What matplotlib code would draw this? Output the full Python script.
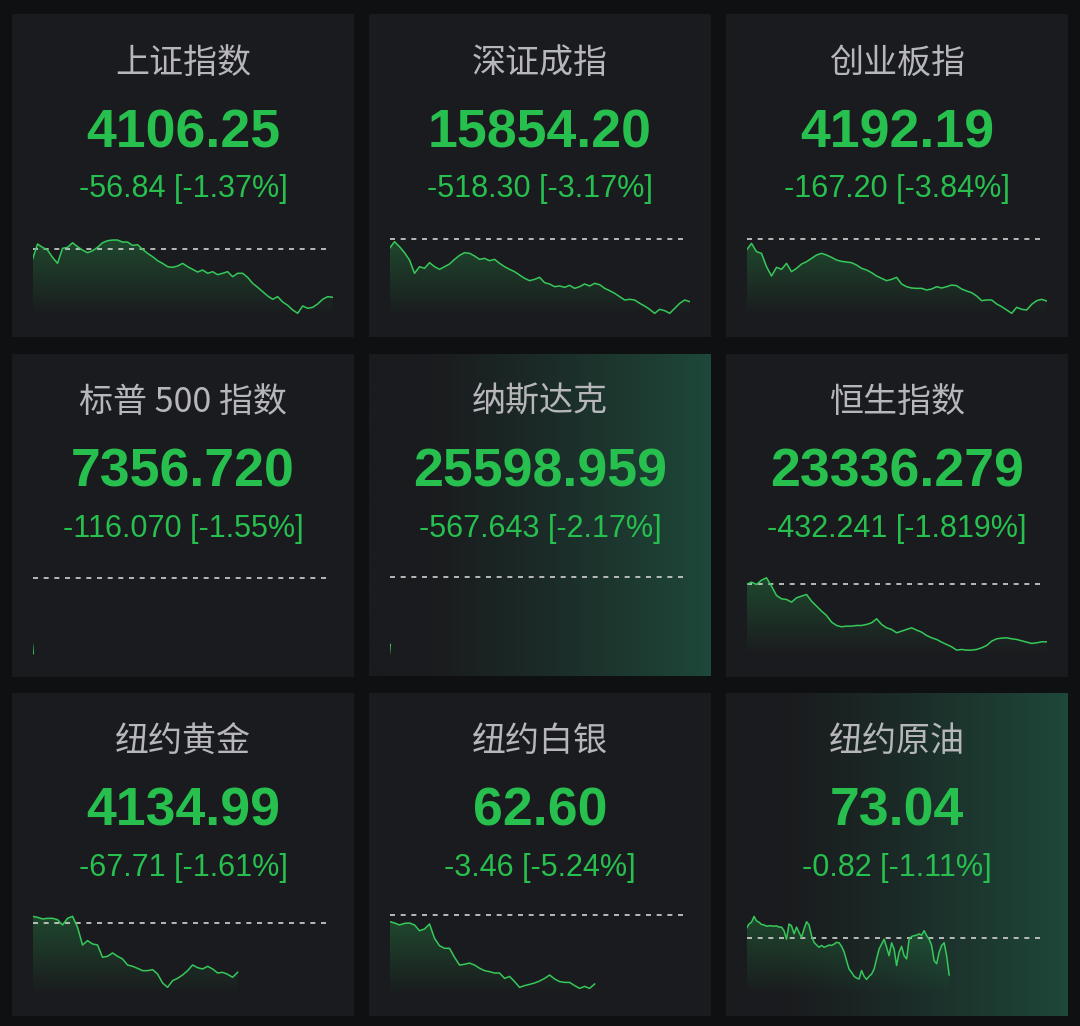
import numpy as np
import matplotlib
matplotlib.use('Agg')
import matplotlib.pyplot as plt
from matplotlib.path import Path
from matplotlib.colors import to_rgb

plt.rcParams['font.family'] = ['Noto Sans CJK SC', 'DejaVu Sans']

# ---------------- data ----------------
names = ['上证指数', '深证成指', '创业板指',
         '标普 500 指数', '纳斯达克', '恒生指数',
         '纽约黄金', '纽约白银', '纽约原油']
prices = ['4106.25', '15854.20', '4192.19',
          '7356.720', '25598.959', '23336.279',
          '4134.99', '62.60', '73.04']
changes = ['-56.84', '-518.30', '-167.20',
           '-116.070', '-567.643', '-432.241',
           '-67.71', '-3.46', '-0.82']
pcts = ['-1.37%', '-3.17%', '-3.84%',
        '-1.55%', '-2.17%', '-1.819%',
        '-1.61%', '-5.24%', '-1.11%']

sse = [4150.9, 4169.0, 4165.1, 4161.9, 4153.3, 4146.2, 4163.9, 4165.1, 4170.5, 4165.8,
       4161.9, 4158.8, 4161.1, 4165.1, 4170.5, 4172.9, 4173.7, 4173.7, 4171.3, 4171.3,
       4167.4, 4168.2, 4162.7, 4158.0, 4154.1, 4149.4, 4146.2, 4142.3, 4141.5, 4143.1,
       4146.2, 4142.3, 4139.2, 4136.0, 4138.4, 4134.5, 4136.4, 4132.9, 4134.5, 4136.4,
       4130.5, 4134.5, 4134.5, 4129.7, 4122.7, 4118.0, 4112.9, 4107.8, 4103.9, 4107.0,
       4100.7, 4096.8, 4091.3, 4087.4, 4096.0, 4093.3, 4094.4, 4098.4, 4103.9, 4107.0, 4106.25]
szse = [16295.3, 16350.4, 16309.1, 16259.5, 16198.8, 16088.5, 16143.7, 16129.9, 16176.8, 16143.7,
        16121.6, 16143.7, 16165.7, 16204.3, 16237.4, 16259.5, 16254.0, 16231.9, 16204.3, 16212.6,
        16193.3, 16204.3, 16171.2, 16143.7, 16121.6, 16102.3, 16074.7, 16047.2, 16027.9, 16038.9,
        16055.5, 16011.3, 16000.3, 15978.2, 15983.8, 15972.7, 15989.3, 15964.5, 15978.2, 16000.3,
        15983.8, 16005.8, 15994.8, 15964.5, 15945.2, 15923.1, 15895.6, 15868.0, 15873.5, 15868.0,
        15840.4, 15818.3, 15790.8, 15757.7, 15790.8, 15779.8, 15757.7, 15799.0, 15840.4, 15868.0, 15854.20]
chinext = [4329.7, 4347.7, 4325.2, 4320.7, 4284.8, 4259.6, 4283.0, 4277.6, 4293.7, 4271.3,
           4280.3, 4291.9, 4298.2, 4307.2, 4316.2, 4320.7, 4316.2, 4309.9, 4302.7, 4299.1,
           4297.3, 4295.5, 4289.2, 4280.3, 4275.8, 4268.6, 4259.6, 4253.3, 4247.0, 4250.6,
           4256.0, 4238.0, 4230.8, 4227.2, 4226.3, 4226.3, 4221.8, 4224.5, 4230.8, 4227.2,
           4230.8, 4235.3, 4233.5, 4224.5, 4219.1, 4214.6, 4205.6, 4193.1, 4194.9, 4194.9,
           4184.1, 4176.9, 4167.9, 4158.9, 4175.1, 4169.7, 4167.9, 4183.2, 4193.1, 4196.7, 4192.19]
spx = [7370.5, 7356.72]
ixic = [25523.3, 25598.959]
hsi = [23763.5, 23780.9, 23763.5, 23795.8, 23813.2, 23751.1, 23681.6, 23656.7, 23651.8, 23631.9,
       23664.2, 23676.6, 23689.0, 23639.3, 23602.1, 23564.8, 23532.5, 23482.9, 23458.0, 23448.1,
       23453.0, 23453.0, 23458.0, 23458.0, 23465.5, 23477.9, 23507.7, 23465.5, 23440.6, 23428.2,
       23403.4, 23415.8, 23428.2, 23440.6, 23423.2, 23408.3, 23383.5, 23366.1, 23353.7, 23333.8,
       23316.4, 23299.0, 23274.2, 23279.2, 23274.2, 23274.2, 23279.2, 23291.6, 23309.0, 23341.3,
       23358.7, 23363.6, 23366.1, 23358.7, 23353.7, 23343.8, 23333.8, 23323.9, 23328.9, 23336.3, 23336.279]
gold = [4211.9, 4210.5, 4208.2, 4209.1, 4209.1, 4207.3, 4200.0, 4209.1, 4211.9, 4196.8,
        4172.5, 4178.5, 4173.9, 4172.5, 4155.6, 4157.0, 4161.6, 4157.0, 4153.3, 4145.1,
        4143.3, 4140.5, 4137.3, 4137.3, 4138.7, 4132.7, 4120.4, 4114.4, 4123.6, 4126.8,
        4131.4, 4137.3, 4145.1, 4141.4, 4139.6, 4143.3, 4139.6, 4134.1, 4135.0, 4132.3,
        4128.2, 4134.99]
silver = [65.73, 65.66, 65.56, 65.64, 65.66, 65.56, 65.27, 65.36, 65.61, 64.89,
          64.52, 64.39, 64.39, 63.94, 63.55, 63.59, 63.65, 63.55, 63.39, 63.27,
          63.22, 63.15, 63.15, 62.88, 62.98, 62.72, 62.43, 62.52, 62.58, 62.65,
          62.75, 62.88, 63.05, 62.85, 62.72, 62.68, 62.68, 62.52, 62.38, 62.48,
          62.38, 62.60]
crude = [74.08, 74.18, 74.22, 74.35, 74.25, 74.22, 74.17, 74.16, 74.13, 74.14,
         74.14, 74.13, 74.14, 74.11, 74.11, 74.03, 73.84, 74.18, 74.14, 73.96,
         74.11, 73.99, 73.88, 74.07, 74.23, 74.16, 73.92, 73.77, 73.71, 73.66,
         73.70, 73.66, 73.68, 73.71, 73.70, 73.73, 73.77, 73.76, 73.68, 73.56,
         73.36, 73.17, 73.10, 73.01, 72.97, 72.95, 73.14, 73.01, 72.94, 73.01,
         73.06, 73.17, 73.40, 73.62, 73.73, 73.84, 73.66, 73.47, 73.76, 73.62,
         73.25, 73.55, 73.68, 73.47, 73.40, 73.84, 73.90, 73.92, 73.93, 73.96,
         73.93, 74.03, 73.92, 73.84, 73.70, 73.36, 73.29, 73.55, 73.70, 73.76,
         73.47, 73.04]

series = [sse, szse, chinext, spx, ixic, hsi, gold, silver, crude]
session_slots = [61, 61, 61, 391, 391, 61, 61, 61, 121]

# ---------------- layout / style ----------------
ylims = [(4084.2, 4180.8), (15735.6, 16413.9), (4151.7, 4372.9),
         (7353.7, 7479.4), (25506.4, 26196.0), (23234.2, 23845.3),
         (4103.9, 4216.4), (62.048, 66.16), (72.592, 74.426)]
gradient_panels = [4, 8]

FW, FH = 1080, 1026
BG = '#0f1012'
PANEL = '#1a1b1e'
GREEN_TXT = '#27c04f'
GREEN_LINE = '#36c85a'
TITLE = '#b6b6bb'
NUM_FONT = ['Liberation Sans', 'DejaVu Sans']

col_L = [12, 369, 726]
row_T = [14, 353.5, 693]
PW, PH = 342, 323

fig = plt.figure(figsize=(FW / 100, FH / 100), dpi=100, facecolor=BG)


def frect(L, T, W, H):
    return [L / FW, 1 - (T + H) / FH, W / FW, H / FH]


for i in range(9):
    r, c = divmod(i, 3)
    L, T = col_L[c], row_T[r]

    # panel background
    pax = fig.add_axes(frect(L, T, PW, PH))
    pax.set_xlim(0, 1)
    pax.set_ylim(0, 1)
    pax.axis('off')
    if i in gradient_panels:
        t = np.linspace(0, 1, 300)
        c0 = np.array(to_rgb(PANEL))
        c1 = np.array([30, 72, 57]) / 255.0
        w = np.clip((t - 0.15) / 0.85, 0, 1) ** 1.2
        row = c0[None, :] * (1 - w[:, None]) + c1[None, :] * w[:, None]
        img = np.repeat(row[None, :, :], 2, axis=0)
        pax.imshow(img, extent=[0, 1, 0, 1], aspect='auto', interpolation='bilinear')
    else:
        pax.add_patch(plt.Rectangle((0, 0), 1, 1, color=PANEL))

    cx = (L + PW / 2) / FW
    fig.text(cx, 1 - (T + 49) / FH, names[i], ha='center', va='center',
             fontsize=24.5, color=TITLE)
    fig.text(cx, 1 - (T + 133) / FH, prices[i], ha='center', va='baseline',
             fontsize=38.6, color=GREEN_TXT, family=NUM_FONT, weight='bold')
    fig.text(cx, 1 - (T + 183) / FH, f'{changes[i]} [{pcts[i]}]', ha='center',
             va='baseline', fontsize=22, color=GREEN_TXT, family=NUM_FONT)

    # sparkline
    y = np.asarray(series[i], dtype=float)
    x = np.arange(len(y))
    prev = float(prices[i]) - float(changes[i])
    sax = fig.add_axes(frect(L + 20.5, T + 220, 300.2, 82))
    sax.set_xlim(0, session_slots[i] - 1)
    ylo, yhi = ylims[i]
    sax.set_ylim(ylo, yhi)
    sax.axis('off')
    sax.patch.set_alpha(0)

    # gradient fill under line
    verts = [(x[0], ylo)] + list(zip(x, y)) + [(x[-1], ylo)]
    path = Path(verts)
    gcol = np.array(to_rgb('#2dc85a'))
    ny = 200
    alpha = np.linspace(0.0, 0.26, ny)
    grad = np.zeros((ny, 2, 4))
    grad[:, :, :3] = gcol
    grad[:, :, 3] = alpha[:, None]
    im = sax.imshow(grad, extent=[x[0], max(x[-1], 1), ylo, y.max()], origin='lower',
                    aspect='auto', interpolation='bilinear', zorder=1)
    im.set_clip_path(path, transform=sax.transData)

    sax.plot(x, y, color=GREEN_LINE, lw=1.1, zorder=3, solid_joinstyle='round')
    sax.axhline(prev, xmin=0, xmax=0.985, color='#d2d2d2', lw=1.2,
                dashes=(3.0, 3.4), zorder=2, clip_on=False)

fig.savefig('out.png', dpi=100, facecolor=BG)
